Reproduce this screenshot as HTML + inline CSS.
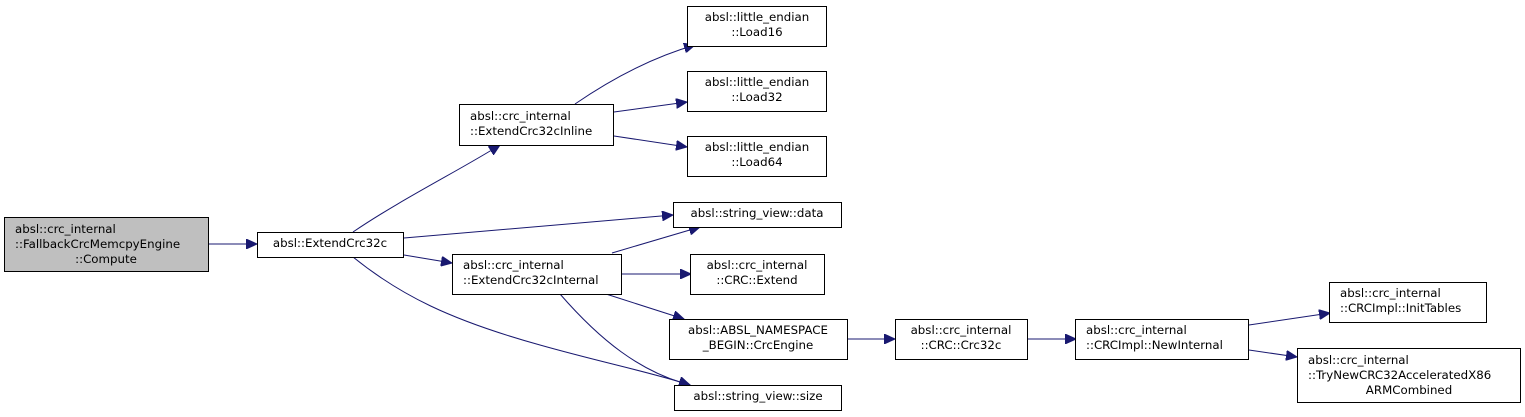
<!DOCTYPE html>
<html><head><meta charset="utf-8"><style>
html,body{margin:0;padding:0;background:#fff;}
svg{display:block;}
text{font-family:"DejaVu Sans","Liberation Sans",sans-serif;font-size:11.8px;fill:#000;}
.n{fill:#fff;stroke:#000;stroke-width:1;}
.e{fill:none;stroke:#191970;stroke-width:1;}
</style></head><body>
<svg width="1525" height="417" viewBox="0 0 1525 417" xmlns="http://www.w3.org/2000/svg">
<defs><marker id="a" markerWidth="12" markerHeight="10" refX="11" refY="5" orient="auto" markerUnits="userSpaceOnUse"><path d="M0,0 L11,5 L0,10 z" fill="#191970" stroke="#191970"/></marker></defs>
<g class="edges">
<path class="e" marker-end="url(#a)" d="M209,244 L257,244"/>
<path class="e" marker-end="url(#a)" d="M353,232 C400,200 460,170 500,145"/>
<path class="e" marker-end="url(#a)" d="M404,238 L673,215"/>
<path class="e" marker-end="url(#a)" d="M404,255 L452,263"/>
<path class="e" marker-end="url(#a)" d="M353,257 C400,295 450,320 540,345 C600,362 650,372 690,385"/>
<path class="e" marker-end="url(#a)" d="M575,104 C610,80 650,58 695,45"/>
<path class="e" marker-end="url(#a)" d="M614,112 L687,102"/>
<path class="e" marker-end="url(#a)" d="M614,136 L687,147"/>
<path class="e" marker-end="url(#a)" d="M612,253 L700,227"/>
<path class="e" marker-end="url(#a)" d="M621,274 L691,274"/>
<path class="e" marker-end="url(#a)" d="M606,294 L684,319"/>
<path class="e" marker-end="url(#a)" d="M560,294 C600,340 640,372 690,385"/>
<path class="e" marker-end="url(#a)" d="M847,339 L895,339"/>
<path class="e" marker-end="url(#a)" d="M1028,339 L1076,339"/>
<path class="e" marker-end="url(#a)" d="M1249,325 L1330,313"/>
<path class="e" marker-end="url(#a)" d="M1249,350 L1297,357"/>
</g>
<rect x="4.5" y="217.5" width="204" height="54" fill="#bfbfbf" stroke="#000"/>
<text x="15" y="233">absl::crc_internal</text>
<text x="15" y="248">::FallbackCrcMemcpyEngine</text>
<text x="106" y="263" text-anchor="middle">::Compute</text>

<rect class="n" x="257.5" y="232.5" width="146" height="25"/>
<text x="330" y="247" text-anchor="middle">absl::ExtendCrc32c</text>

<rect class="n" x="459.5" y="104.5" width="154" height="41"/>
<text x="470" y="120">absl::crc_internal</text>
<text x="470" y="135">::ExtendCrc32cInline</text>

<rect class="n" x="687.5" y="6.5" width="139" height="40"/>
<text x="757" y="21" text-anchor="middle">absl::little_endian</text>
<text x="757" y="36" text-anchor="middle">::Load16</text>
<rect class="n" x="687.5" y="71.5" width="139" height="40"/>
<text x="757" y="86" text-anchor="middle">absl::little_endian</text>
<text x="757" y="101" text-anchor="middle">::Load32</text>
<rect class="n" x="687.5" y="136.5" width="139" height="40"/>
<text x="757" y="151" text-anchor="middle">absl::little_endian</text>
<text x="757" y="166" text-anchor="middle">::Load64</text>

<rect class="n" x="673.5" y="202.5" width="168" height="25"/>
<text x="757" y="217" text-anchor="middle">absl::string_view::data</text>

<rect class="n" x="452.5" y="254.5" width="169" height="40"/>
<text x="463" y="269">absl::crc_internal</text>
<text x="463" y="284">::ExtendCrc32cInternal</text>

<rect class="n" x="690.5" y="254.5" width="134" height="40"/>
<text x="757" y="269" text-anchor="middle">absl::crc_internal</text>
<text x="757" y="284" text-anchor="middle">::CRC::Extend</text>

<rect class="n" x="669.5" y="319.5" width="178" height="40"/>
<text x="758" y="334" text-anchor="middle">absl::ABSL_NAMESPACE</text>
<text x="758" y="349" text-anchor="middle">_BEGIN::CrcEngine</text>

<rect class="n" x="674.5" y="385.5" width="167" height="25"/>
<text x="758" y="400" text-anchor="middle">absl::string_view::size</text>

<rect class="n" x="895.5" y="319.5" width="132" height="40"/>
<text x="961" y="334" text-anchor="middle">absl::crc_internal</text>
<text x="961" y="349" text-anchor="middle">::CRC::Crc32c</text>

<rect class="n" x="1075.5" y="319.5" width="173" height="40"/>
<text x="1086" y="334">absl::crc_internal</text>
<text x="1086" y="349">::CRCImpl::NewInternal</text>

<rect class="n" x="1329.5" y="282.5" width="157" height="40"/>
<text x="1340" y="297">absl::crc_internal</text>
<text x="1340" y="312">::CRCImpl::InitTables</text>

<rect class="n" x="1297.5" y="348.5" width="223" height="54"/>
<text x="1308" y="364">absl::crc_internal</text>
<text x="1308" y="379">::TryNewCRC32AcceleratedX86</text>
<text x="1409" y="394" text-anchor="middle">ARMCombined</text>
</svg>
</body></html>
